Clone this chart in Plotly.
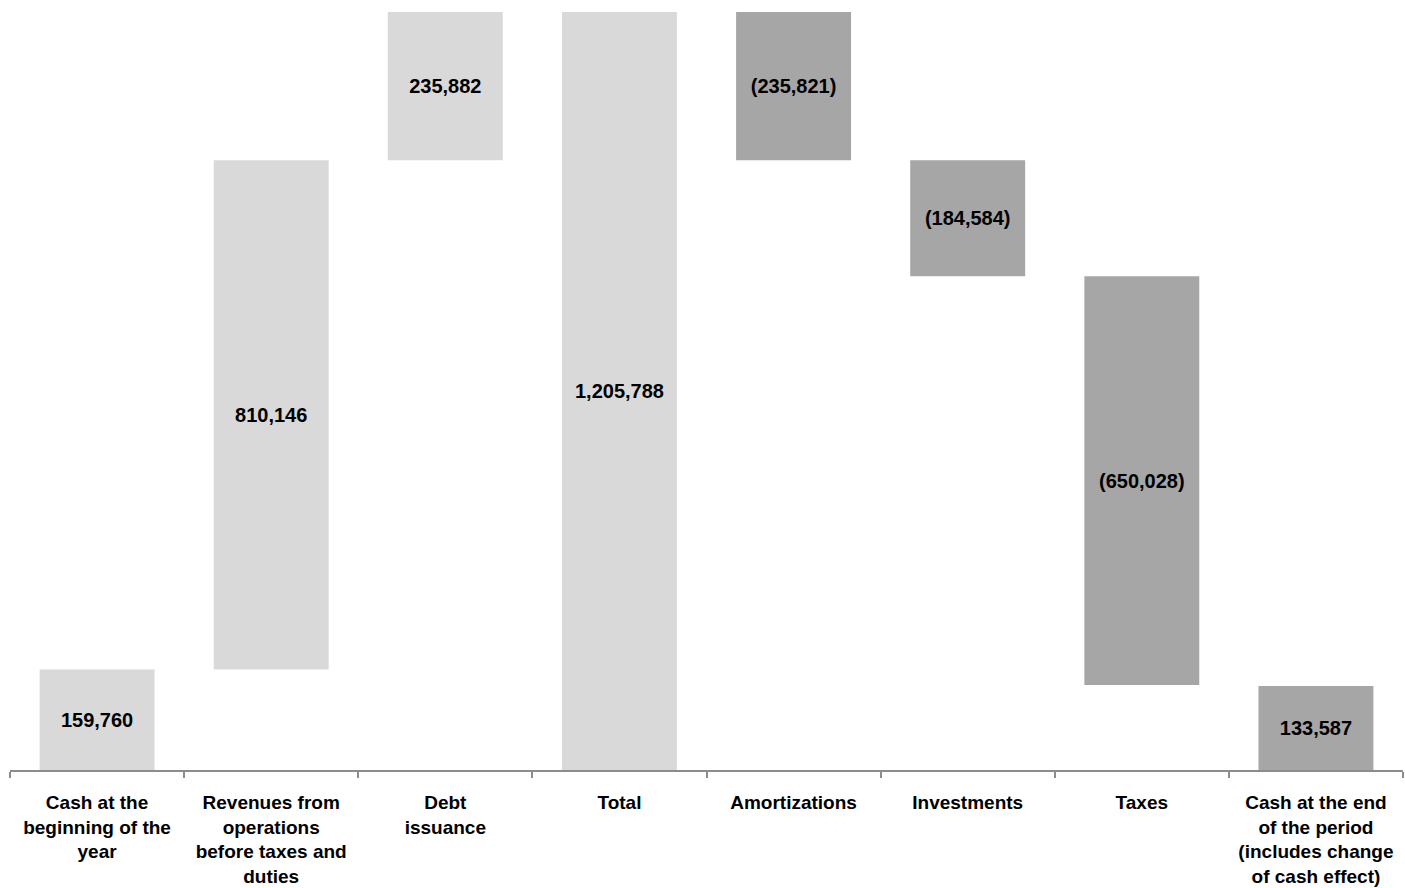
import plotly.graph_objects as go

# ---- data ----
categories = [
    "Cash at the<br>beginning of the<br>year",
    "Revenues from<br>operations<br>before taxes and<br>duties",
    "Debt<br>issuance",
    "Total",
    "Amortizations",
    "Investments",
    "Taxes",
    "Cash at the end<br>of the period<br>(includes change<br>of cash effect)",
]
values = [159760, 810146, 235882, 1205788, -235821, -184584, -650028, 133587]
measures = ["absolute", "relative", "relative", "total",
            "relative", "relative", "relative", "absolute"]

# ---- derive bar bases / heights from the data ----
bases, heights, labels = [], [], []
running = 0
for v, m in zip(values, measures):
    if m == "absolute":
        bases.append(0); heights.append(v); running = v
    elif m == "total":
        bases.append(0); heights.append(running)
    else:
        bases.append(running if v > 0 else running + v)
        heights.append(abs(v))
        running += v
    labels.append(f"{v:,}" if v >= 0 else f"({abs(v):,})")

# ---- styles ----
LIGHT = "#d9d9d9"
DARK = "#a6a6a6"
AXIS = "#8c8c8c"
colors = [LIGHT] * 4 + [DARK] * 4
FONT = "Liberation Sans, Arial, sans-serif"

xcats = [f"<b>{c}</b>" for c in categories]

fig = go.Figure(go.Bar(
    x=xcats,
    y=heights,
    base=bases,
    marker=dict(color=colors, line=dict(width=0)),
    width=0.66,
    text=labels,
    textposition="inside",
    insidetextanchor="middle",
    textangle=0,
    textfont=dict(family=FONT, size=20, color="black", weight="bold"),
    constraintext="none",
    hoverinfo="skip",
))

fig.update_layout(
    width=1405, height=888,
    margin=dict(l=10, r=2, t=12, b=118),
    plot_bgcolor="white", paper_bgcolor="white",
    showlegend=False,
)
fig.update_xaxes(
    type="category",
    showline=True, linecolor=AXIS, linewidth=2,
    ticks="outside", tickson="boundaries",
    ticklen=6, tickcolor=AXIS, tickwidth=1.5,
    ticklabelstandoff=14,
    showgrid=False, zeroline=False,
    tickfont=dict(family=FONT, size=19, color="black"),
)
fig.update_yaxes(
    range=[0, 1205788],
    visible=False, showgrid=False, zeroline=False,
)

fig.write_html("out.html")
